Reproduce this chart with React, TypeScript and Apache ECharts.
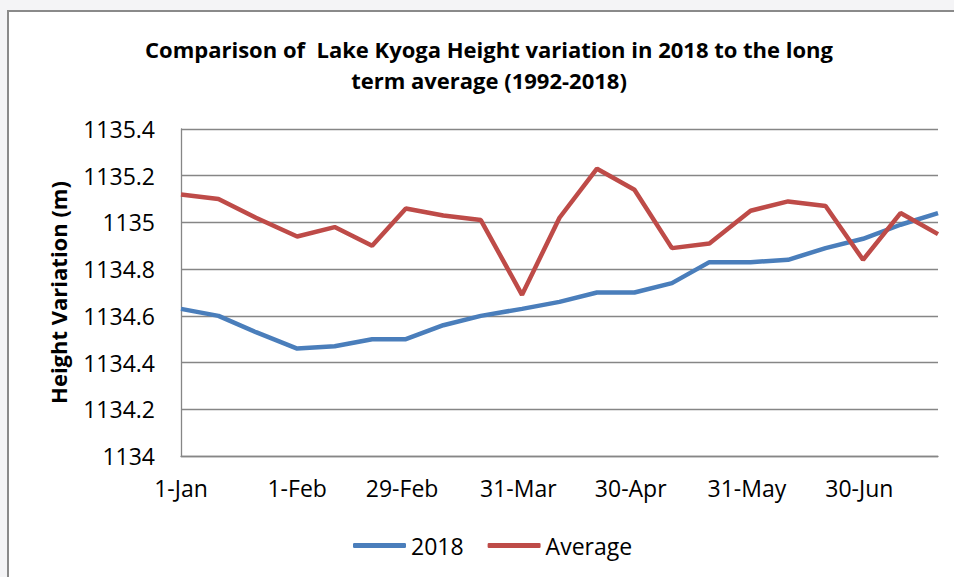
import React, { useEffect, useRef } from "react";
import * as echarts from "echarts";

// Dekadal observation dates (plotted on a 2016-style day-of-year date axis)
const dates = [
  "2016-01-01", "2016-01-11", "2016-01-21",
  "2016-02-01", "2016-02-11", "2016-02-21",
  "2016-03-01", "2016-03-11", "2016-03-21",
  "2016-04-01", "2016-04-11", "2016-04-21",
  "2016-05-01", "2016-05-11", "2016-05-21",
  "2016-06-01", "2016-06-11", "2016-06-21",
  "2016-07-01", "2016-07-11", "2016-07-21",
];

const series2018 = [
  1134.63, 1134.60, 1134.53, 1134.46, 1134.47, 1134.50, 1134.50,
  1134.56, 1134.60, 1134.63, 1134.66, 1134.70, 1134.70, 1134.74,
  1134.83, 1134.83, 1134.84, 1134.89, 1134.93, 1134.99, 1135.04,
];

const seriesAverage = [
  1135.12, 1135.10, 1135.02, 1134.94, 1134.98, 1134.90, 1135.06,
  1135.03, 1135.01, 1134.69, 1135.02, 1135.23, 1135.14, 1134.89,
  1134.91, 1135.05, 1135.09, 1135.07, 1134.84, 1135.04, 1134.95,
];

const tickDates = [
  "2016-01-01", "2016-02-01", "2016-02-29", "2016-03-31",
  "2016-04-30", "2016-05-31", "2016-06-30",
];

const yTicks = { min: 1134, max: 1135.4, interval: 0.2 };

const titleText =
  "Comparison of  Lake Kyoga Height variation in 2018 to the long\nterm average (1992-2018)";
const yName = "Height Variation (m)";
const seriesNames = ["2018", "Average"];

const MONTHS = ["Jan", "Feb", "Mar", "Apr", "May", "Jun", "Jul", "Aug", "Sep", "Oct", "Nov", "Dec"];
const base = Date.UTC(2016, 0, 1);
const dayOf = (s: string) => {
  const [y, m, d] = s.split("-").map(Number);
  return Math.round((Date.UTC(y, m - 1, d) - base) / 86400000);
};
const labelOfDay = (day: number) => {
  const dt = new Date(base + day * 86400000);
  return `${dt.getUTCDate()}-${MONTHS[dt.getUTCMonth()]}`;
};

const FONT = "'Open Sans', 'Noto Sans', sans-serif";
const GRID_COLOR = "#868686";

export default function App() {
  const ref = useRef<HTMLDivElement>(null);

  useEffect(() => {
    if (!ref.current) return;
    const chart = echarts.init(ref.current, undefined, { renderer: "svg" });
    const days = dates.map(dayOf);
    const tickDays = tickDates.map(dayOf);

    chart.setOption({
      animation: false,
      graphic: [
        {
          type: "text",
          x: 489,
          y: 33,
          style: {
            text: titleText,
            align: "center",
            verticalAlign: "top",
            fontFamily: FONT,
            fontSize: 22,
            fontWeight: "bold",
            fill: "#000",
            lineHeight: 31,
          },
        },
      ],
      grid: { left: 181, right: 16, top: 129, bottom: 121 },
      legend: {
        data: seriesNames,
        left: 348,
        top: 529,
        icon: "roundRect",
        itemWidth: 53,
        itemHeight: 5,
        itemGap: 24,
        textStyle: { fontFamily: FONT, fontSize: 23, color: "#000" },
      },
      xAxis: {
        type: "value",
        min: 0,
        max: days[days.length - 1],
        axisLine: { show: true, lineStyle: { color: GRID_COLOR, width: 1.3 } },
        axisTick: { show: false },
        splitLine: { show: false },
        axisLabel: {
          customValues: tickDays,
          formatter: (v: number) => labelOfDay(v),
          fontFamily: FONT,
          fontSize: 23,
          color: "#000",
          margin: 20,
          showMinLabel: true,
          showMaxLabel: true,
        },
      },
      yAxis: {
        type: "value",
        min: yTicks.min,
        max: yTicks.max,
        interval: yTicks.interval,
        name: yName,
        nameLocation: "middle",
        nameGap: 112,
        nameTextStyle: { fontFamily: FONT, fontSize: 22, fontWeight: "bold", color: "#000" },
        axisLine: { show: true, lineStyle: { color: GRID_COLOR, width: 1.3 } },
        axisTick: { show: false },
        splitLine: { show: true, lineStyle: { color: GRID_COLOR, width: 1.3 } },
        axisLabel: {
          formatter: (v: number) => String(+v.toFixed(1)),
          fontFamily: FONT,
          fontSize: 23,
          color: "#000",
          margin: 26,
        },
      },
      series: [
        {
          name: seriesNames[0],
          type: "line",
          data: days.map((d, i) => [d, series2018[i]]),
          showSymbol: false,
          color: "#4a7ebb",
          lineStyle: { width: 4.5, color: "#4a7ebb" },
        },
        {
          name: seriesNames[1],
          type: "line",
          data: days.map((d, i) => [d, seriesAverage[i]]),
          showSymbol: false,
          color: "#be4b48",
          lineStyle: { width: 4.5, color: "#be4b48" },
        },
      ],
    });
    return () => chart.dispose();
  }, []);

  return (
    <div style={{ position: "fixed", left: 0, top: 0, width: 954, height: 577, background: "#f4f4f6", overflow: "hidden" }}>
      <div
        style={{
          position: "absolute",
          left: 7,
          top: 10,
          width: 960,
          height: 580,
          background: "#fff",
          borderLeft: "2px solid #8a8a8a",
          borderTop: "2px solid #8a8a8a",
          boxSizing: "border-box",
        }}
      />
      <div ref={ref} style={{ position: "absolute", left: 0, top: 0, width: 954, height: 577 }} />
    </div>
  );
}
